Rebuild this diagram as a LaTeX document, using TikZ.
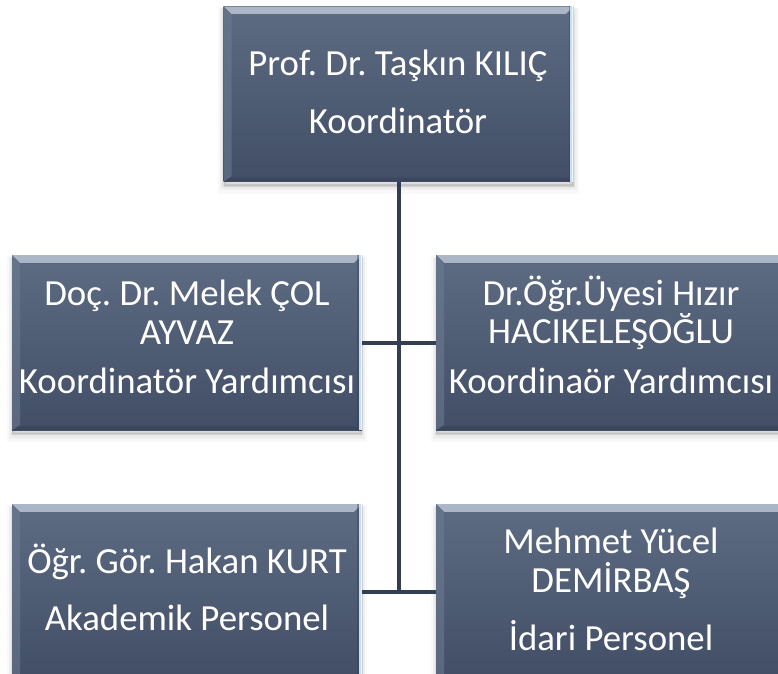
\documentclass[tikz,border=0pt]{standalone}
\usepackage{fontspec}
\setmainfont{Carlito}
\usetikzlibrary{calc}
\frenchspacing
\definecolor{boxtop}{RGB}{93,107,131}
\definecolor{boxbot}{RGB}{65,78,102}
\definecolor{bevtop}{RGB}{172,184,200}
\definecolor{bevbot}{RGB}{108,122,145}
\definecolor{bevleft}{RGB}{110,124,148}
\definecolor{hilite}{RGB}{200,222,242}
\definecolor{bevdark}{RGB}{52,63,82}
\definecolor{linec}{RGB}{50,62,82}
\tikzset{
  box/.style={rectangle, inner sep=0pt, minimum width=262.5pt, minimum height=131.25pt,
    top color=boxtop, bottom color=boxbot,
    preaction={fill=black, draw=black, line width=8pt, opacity=0.025, transform canvas={yshift=-5pt}},
    preaction={fill=black, draw=black, line width=5pt, opacity=0.04, transform canvas={yshift=-4pt}},
    preaction={fill=black, draw=black, line width=2pt, opacity=0.06, transform canvas={yshift=-3pt}},
    path picture={
      \fill[top color=bevtop, bottom color=bevbot]
        (path picture bounding box.north west) -- (path picture bounding box.north east)
        -- ([shift={(-6pt,-6pt)}]path picture bounding box.north east)
        -- ([shift={(6pt,-6pt)}]path picture bounding box.north west) -- cycle;
      \fill[bevleft, opacity=0.55]
        (path picture bounding box.north west) -- ([shift={(6pt,-6pt)}]path picture bounding box.north west)
        -- ([shift={(6pt,4pt)}]path picture bounding box.south west)
        -- (path picture bounding box.south west) -- cycle;
      \fill[bevdark, opacity=0.5]
        (path picture bounding box.south west) -- ([shift={(6pt,3pt)}]path picture bounding box.south west)
        -- ([shift={(-6pt,3pt)}]path picture bounding box.south east)
        -- (path picture bounding box.south east) -- cycle;
      \fill[bevdark, opacity=0.4]
        ([xshift=-3.5pt]path picture bounding box.north east) rectangle ([xshift=-2.5pt]path picture bounding box.south east);
      \fill[hilite]
        ([xshift=-2.5pt]path picture bounding box.north east) rectangle (path picture bounding box.south east);
      \fill[white, opacity=0.7]
        ([xshift=-1pt]path picture bounding box.north east) rectangle (path picture bounding box.south east);
    }},
  txt/.style={anchor=base, text=white, font=\fontsize{27.6}{32}\selectfont, inner sep=0pt},
  conn/.style={draw=linec, line width=3pt}
}
\begin{document}
\begin{tikzpicture}[x=0.75pt, y=-0.75pt]
\useasboundingbox (0,0) rectangle (778,674);
\clip (0,0) rectangle (778,674);
\fill[white] (0,0) rectangle (778,674);

\node[box] (top) at (398.5,94) {};
\node[box] (ml) at (187,342.5) {};
\node[box] (mr) at (611,342.5) {};
\node[box] (bl) at (187,591.5) {};
\node[box] (br) at (611,591.5) {};

\coordinate (j2) at (top.south |- bl.east);
\draw[conn] (top.south) -- (j2);
\draw[conn] (ml.east) -- (mr.west);
\draw[conn] (bl.east) -- (br.west);

\node[txt] (t1) at (398,76) {Prof. Dr. Taşkın KILIÇ};
\node[txt] (t2) at (398,133) {Koordinatör};

\node[txt] (l1) at (187,305) {Doç. Dr. Melek ÇOL};
\node[txt] (l2) at (187,344) {AYVAZ};
\node[txt] (l3) at (187,393) {Koordinatör Yardımcısı};

\node[txt] (r1) at (611,305) {Dr.Öğr.Üyesi Hızır};
\node[txt] (r2) at (611,343) {HACIKELEŞOĞLU};
\node[txt] (r3) at (611,393) {Koordinaör Yardımcısı};

\node[txt] (b1) at (187,573) {Öğr. Gör. Hakan KURT};
\node[txt] (b2) at (187,630) {Akademik Personel};

\node[txt] (c1) at (611,553) {Mehmet Yücel};
\node[txt] (c2) at (611,592) {DEMİRBAŞ};
\node[txt] (c3) at (611,650) {İdari Personel};
\end{tikzpicture}
\end{document}
